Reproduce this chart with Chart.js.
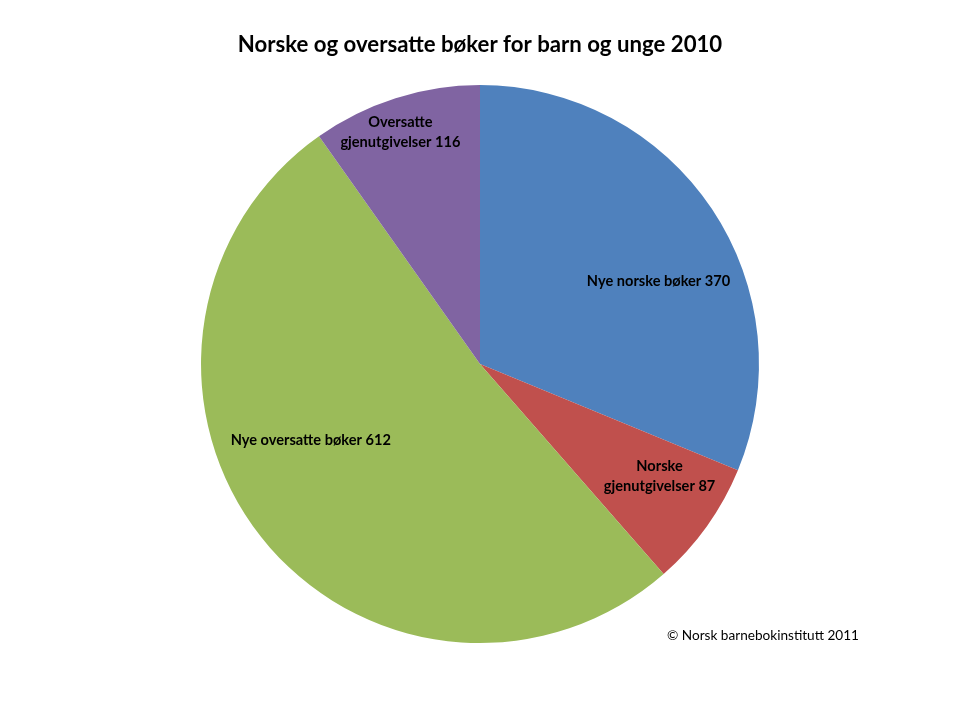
<!DOCTYPE html>
<html>
<head>
<meta charset="utf-8">
<script src="https://cdn.jsdelivr.net/npm/chart.js@4"></script>
<style>
  html, body { margin: 0; padding: 0; background: #fff; }
  #wrap { width: 960px; height: 720px; }
</style>
</head>
<body>
<div id="wrap"><canvas id="pie" width="960" height="720"></canvas></div>
<script>
/* Norske og oversatte bøker for barn og unge 2010 */

const categories = [
  ['Nye norske bøker 370'],
  ['Norske', 'gjenutgivelser 87'],
  ['Nye oversatte bøker 612'],
  ['Oversatte', 'gjenutgivelser 116']
];
const values = [370, 87, 612, 116];
const colors = ['#4F81BD', '#C0504D', '#9BBB59', '#8064A2'];

// label placement: angle shift (deg) from slice middle, radial fraction
const labelAngleShift = [9, -3.5, 14, -1.3];
const labelRadius = [0.705, 0.76, 0.665, 0.88];

const FONT = "Lato, 'Open Sans', sans-serif";

const sliceLabels = {
  id: 'sliceLabels',
  afterDatasetsDraw(chart) {
    const ctx = chart.ctx;
    const meta = chart.getDatasetMeta(0);
    ctx.save();
    ctx.font = 'bold 14.6px ' + FONT;
    ctx.fillStyle = '#000';
    ctx.textAlign = 'center';
    ctx.textBaseline = 'middle';
    meta.data.forEach((arc, i) => {
      const p = arc.getProps(['x', 'y', 'startAngle', 'endAngle', 'outerRadius'], true);
      const mid = (p.startAngle + p.endAngle) / 2 + labelAngleShift[i] * Math.PI / 180;
      const r = p.outerRadius * labelRadius[i];
      const cx = p.x + Math.cos(mid) * r;
      const cy = p.y + Math.sin(mid) * r;
      const lines = categories[i];
      const lh = 20;
      lines.forEach((t, k) => {
        ctx.fillText(t, cx, cy + (k - (lines.length - 1) / 2) * lh);
      });
    });
    // source note
    ctx.font = '13.6px ' + FONT;
    ctx.textAlign = 'left';
    ctx.fillText('\u00A9 Norsk barnebokinstitutt 2011', 667, 636);
    ctx.restore();
  }
};

new Chart(document.getElementById('pie'), {
  type: 'pie',
  data: {
    labels: categories.map(l => l.join(' ')),
    datasets: [{
      data: values,
      backgroundColor: colors,
      borderWidth: 0
    }]
  },
  options: {
    responsive: false,
    animation: false,
    layout: { padding: { top: 0, bottom: 77 } },
    plugins: {
      legend: { display: false },
      tooltip: { enabled: false },
      title: {
        display: true,
        text: 'Norske og oversatte bøker for barn og unge 2010',
        color: '#000',
        font: { family: FONT, size: 22.2, weight: 'bold' },
        padding: { top: 32, bottom: 26.4 }
      }
    }
  },
  plugins: [sliceLabels]
});
</script>
</body>
</html>
